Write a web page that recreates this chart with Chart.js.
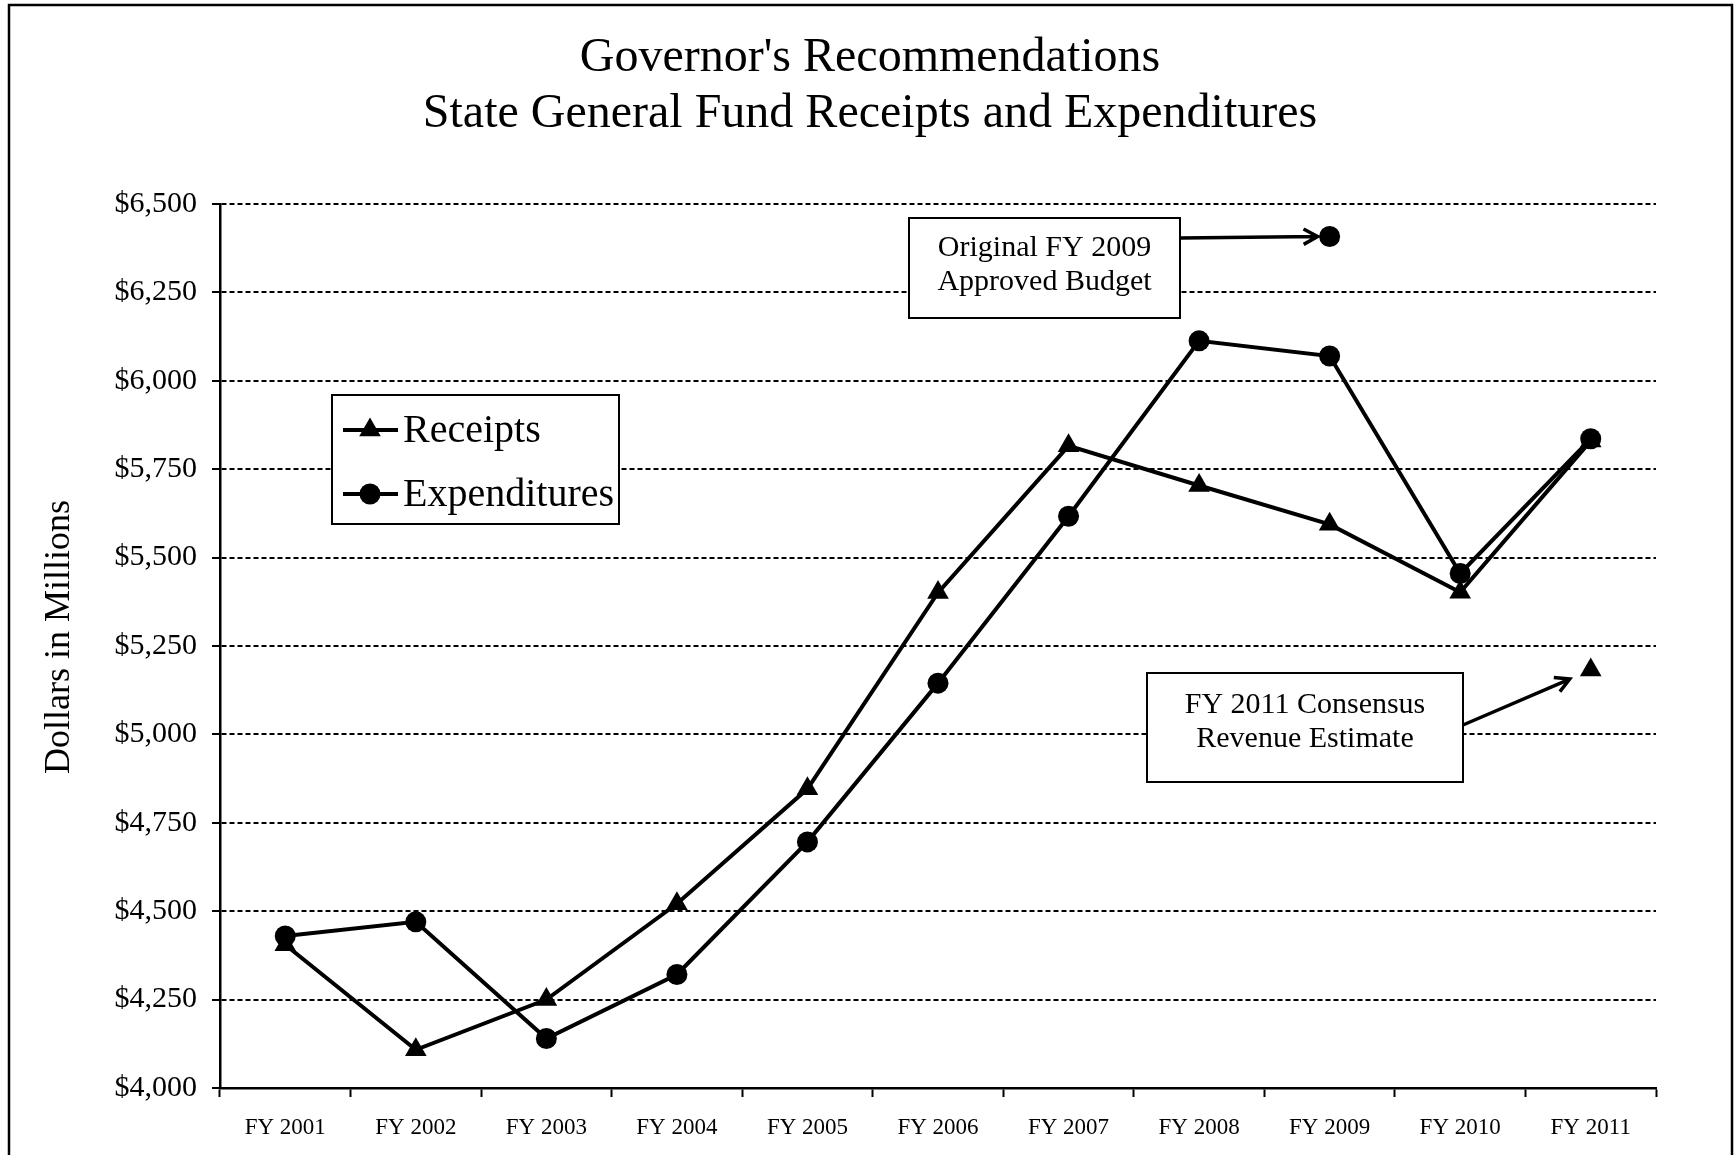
<!DOCTYPE html>
<html>
<head>
<meta charset="utf-8">
<title>State General Fund Receipts and Expenditures</title>
<script src="https://cdn.jsdelivr.net/npm/chart.js@4.4.1/dist/chart.umd.min.js"></script>
<style>
  html, body { margin: 0; padding: 0; background: #fff; }
  #wrap { position: relative; width: 1735px; height: 1155px; }
</style>
</head>
<body>
<div id="wrap"><canvas id="fundChart"></canvas></div>
<script>
(function () {
  'use strict';

  // === DATA ===
  var YEARS        = ['FY 2001', 'FY 2002', 'FY 2003', 'FY 2004', 'FY 2005', 'FY 2006',
                      'FY 2007', 'FY 2008', 'FY 2009', 'FY 2010', 'FY 2011'];
  var RECEIPTS     = [4405, 4108, 4250, 4521, 4846, 5401, 5816, 5704, 5594, 5402, 5830];
  var EXPENDITURES = [4430, 4470, 4140, 4321, 4696, 5145, 5617, 6113, 6070, 5455, 5836];

  var BUDGET_YEAR      = 'FY 2009';
  var BUDGET_VALUE     = 6408;   // original approved budget
  var CONSENSUS_YEAR   = 'FY 2011';
  var CONSENSUS_VALUE  = 5182;   // consensus revenue estimate

  var Y_MIN  = 4000;
  var Y_MAX  = 6500;
  var Y_STEP = 250;

  var TITLE_LINES     = ["Governor's Recommendations", 'State General Fund Receipts and Expenditures'];
  var Y_TITLE         = 'Dollars in Millions';
  var BUDGET_NOTE     = ['Original FY 2009', 'Approved Budget'];
  var CONSENSUS_NOTE  = ['FY 2011 Consensus', 'Revenue Estimate'];

  // === STYLE ===
  var SERIF = '"Liberation Serif", "Times New Roman", serif';
  var INK   = '#000';

  function single(year, value) {
    return YEARS.map(function (y) { return y === year ? value : null; });
  }

  function money(v) { return '$' + Number(v).toLocaleString('en-US'); }

  function drawArrow(ctx, x1, y1, x2, y2) {
    var ang = Math.atan2(y2 - y1, x2 - x1);
    var head = 16;
    ctx.beginPath();
    ctx.moveTo(x1, y1);
    ctx.lineTo(x2, y2);
    ctx.moveTo(x2 - head * Math.cos(ang - 0.5), y2 - head * Math.sin(ang - 0.5));
    ctx.lineTo(x2, y2);
    ctx.lineTo(x2 - head * Math.cos(ang + 0.5), y2 - head * Math.sin(ang + 0.5));
    ctx.stroke();
  }

  function noteBox(ctx, x, y, w, h, lines, firstY, lineGap) {
    ctx.fillStyle = '#fff';
    ctx.fillRect(x, y, w, h);
    ctx.lineWidth = 2;
    ctx.strokeStyle = INK;
    ctx.strokeRect(x, y, w, h);
    ctx.fillStyle = INK;
    ctx.font = '30px ' + SERIF;
    ctx.textAlign = 'center';
    ctx.textBaseline = 'middle';
    lines.forEach(function (t, i) {
      ctx.fillText(t, x + w / 2, y + firstY + i * lineGap);
    });
  }

  // === DECOR PLUGIN: frame, titles, legend, notes ===
  var decor = {
    id: 'decor',
    beforeDraw: function (chart) {
      var ctx = chart.ctx;
      ctx.save();
      ctx.fillStyle = '#fff';
      ctx.fillRect(0, 0, chart.width, chart.height);
      ctx.strokeStyle = INK;
      ctx.lineWidth = 2.5;
      ctx.beginPath();
      ctx.moveTo(9, chart.height);
      ctx.lineTo(9, 5);
      ctx.lineTo(1732, 5);
      ctx.lineTo(1732, chart.height);
      ctx.stroke();

      ctx.fillStyle = INK;
      ctx.font = '48px ' + SERIF;
      ctx.textAlign = 'center';
      ctx.textBaseline = 'middle';
      ctx.fillText(TITLE_LINES[0], 870, 58);
      ctx.fillText(TITLE_LINES[1], 870, 114);

      // y axis title
      ctx.save();
      ctx.translate(60, 637);
      ctx.rotate(-Math.PI / 2);
      ctx.font = '36px ' + SERIF;
      ctx.fillText(Y_TITLE, 0, 0);
      ctx.restore();
      ctx.restore();
    },
    afterDraw: function (chart) {
      var ctx = chart.ctx;
      var xs = chart.scales.x, ys = chart.scales.y;
      ctx.save();

      // legend
      ctx.fillStyle = '#fff';
      ctx.fillRect(332, 395, 287, 129);
      ctx.lineWidth = 2;
      ctx.strokeStyle = INK;
      ctx.strokeRect(332, 395, 287, 129);
      var rows = [{ y: 430, ds: chart.data.datasets[0] }, { y: 494, ds: chart.data.datasets[1] }];
      rows.forEach(function (r) {
        ctx.strokeStyle = INK;
        ctx.fillStyle = INK;
        ctx.lineWidth = 4;
        ctx.beginPath();
        ctx.moveTo(343, r.y);
        ctx.lineTo(398, r.y);
        ctx.stroke();
        Chart.helpers.drawPoint(ctx, {
          pointStyle: r.ds.pointStyle, radius: r.ds.pointRadius, rotation: 0, borderWidth: 0
        }, 370, r.y);
        ctx.fillStyle = INK;
        ctx.font = '40px ' + SERIF;
        ctx.textAlign = 'left';
        ctx.textBaseline = 'middle';
        ctx.fillText(r.ds.label, 403, r.y + 1);
      });

      // budget note + arrow
      noteBox(ctx, 909, 218, 271, 100, BUDGET_NOTE, 30, 34);
      var bx = xs.getPixelForValue(YEARS.indexOf(BUDGET_YEAR));
      var by = ys.getPixelForValue(BUDGET_VALUE);
      ctx.strokeStyle = INK;
      ctx.lineWidth = 3.5;
      drawArrow(ctx, 1180, 238, bx - 12, by);

      // consensus note + arrow
      noteBox(ctx, 1147, 673, 316, 109, CONSENSUS_NOTE, 32, 34);
      var cx = xs.getPixelForValue(YEARS.indexOf(CONSENSUS_YEAR));
      var cy = ys.getPixelForValue(CONSENSUS_VALUE);
      ctx.strokeStyle = INK;
      ctx.lineWidth = 3.5;
      drawArrow(ctx, 1463, 725, cx - 21, cy + 9);

      ctx.restore();
    }
  };

  // === CHART ===
  var ctx = document.getElementById('fundChart').getContext('2d');
  new Chart(ctx, {
    type: 'line',
    data: {
      labels: YEARS,
      datasets: [{
        label: 'Receipts',
        data: RECEIPTS,
        borderColor: INK,
        backgroundColor: INK,
        borderWidth: 4,
        pointStyle: 'triangle',
        pointRadius: 12.5,
        pointBorderWidth: 0,
        pointBackgroundColor: INK,
        tension: 0
      }, {
        label: 'Expenditures',
        data: EXPENDITURES,
        borderColor: INK,
        backgroundColor: INK,
        borderWidth: 4,
        pointStyle: 'circle',
        pointRadius: 10.5,
        pointBorderWidth: 0,
        pointBackgroundColor: INK,
        tension: 0
      }, {
        label: 'Original FY 2009 Approved Budget',
        data: single(BUDGET_YEAR, BUDGET_VALUE),
        showLine: false,
        pointStyle: 'circle',
        pointRadius: 10.5,
        pointBorderWidth: 0,
        pointBackgroundColor: INK
      }, {
        label: 'FY 2011 Consensus Revenue Estimate',
        data: single(CONSENSUS_YEAR, CONSENSUS_VALUE),
        showLine: false,
        pointStyle: 'triangle',
        pointRadius: 12.5,
        pointBorderWidth: 0,
        pointBackgroundColor: INK
      }]
    },
    options: {
      responsive: true,
      maintainAspectRatio: false,
      animation: false,
      layout: { padding: { top: 204, left: 20, right: 79, bottom: 0 } },
      plugins: {
        legend: { display: false },
        title: { display: false },
        tooltip: { enabled: false }
      },
      scales: {
        x: {
          type: 'category',
          offset: true,
          afterFit: function (s) { s.height = 67; },
          grid: {
            offset: true,
            drawOnChartArea: false,
            drawTicks: true,
            tickLength: 9,
            tickColor: INK,
            tickWidth: 2
          },
          border: { display: true, color: INK, width: 2.5 },
          ticks: {
            color: INK,
            font: { family: SERIF, size: 23 },
            padding: 17,
            maxRotation: 0,
            autoSkip: false
          }
        },
        y: {
          min: Y_MIN,
          max: Y_MAX,
          afterFit: function (s) { s.width = 200; },
          grid: {
            color: INK,
            lineWidth: 2,
            drawTicks: true,
            tickLength: 8,
            tickColor: INK,
            tickWidth: 2
          },
          border: { display: true, color: INK, width: 2.5, dash: [5, 3] },
          ticks: {
            stepSize: Y_STEP,
            color: INK,
            font: { family: SERIF, size: 30 },
            padding: 15,
            callback: function (v) { return money(v); }
          },
          title: { display: false }
        }
      }
    },
    plugins: [decor]
  });
}());
</script>
</body>
</html>
